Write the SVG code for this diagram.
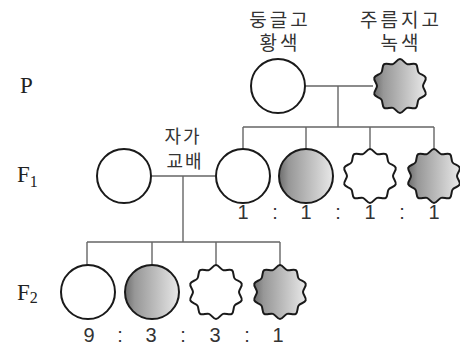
<svg xmlns="http://www.w3.org/2000/svg" xmlns:xlink="http://www.w3.org/1999/xlink" width="460" height="345" viewBox="0 0 460 345">
  <style>
    .ko { font-family: "Noto Sans CJK KR", "Noto Sans", sans-serif; font-size: 19px; fill: #333; letter-spacing: 3px; text-anchor: middle; }
    .gen { font-family: "Liberation Serif", "Times New Roman", serif; font-size: 23px; fill: #222; }
    .ratio { font-family: "Liberation Sans", Arial, sans-serif; font-size: 20px; fill: #333; text-anchor: middle; }
    .shape { stroke: #1a1a1a; stroke-width: 2; }
    .plain { fill: #fff; }
    .green { fill: url(#shade); }
    .link { fill: none; stroke: #666; stroke-width: 1.4; }
  </style>
  <defs>
    <linearGradient id="shade" x1="0" y1="0" x2="1" y2="0">
      <stop offset="0" stop-color="#6e6e6e"/>
      <stop offset="0.18" stop-color="#979797"/>
      <stop offset="1" stop-color="#e8e8e8"/>
    </linearGradient>
    <!-- round pea -->
    <circle id="round" r="27"/>
    <!-- wrinkled pea: ten-lobed wavy outline -->
    <path id="wrinkled" d="M0,-27 C2.8,-27 4.44,-22.74 7.11,-21.88 S13.61,-23.49 15.87,-21.84 S16.96,-15.78 18.61,-13.52 S24.82,-11.01 25.68,-8.34 S23,-2.8 23,0 S26.55,5.68 25.68,8.34 S20.25,11.25 18.61,13.52 S18.14,20.2 15.87,21.84 S9.77,21.01 7.11,21.88 S2.8,27 0,27 S-4.44,22.74 -7.11,21.88 S-13.61,23.49 -15.87,21.84 S-16.96,15.78 -18.61,13.52 S-24.82,11.01 -25.68,8.34 S-23,2.8 -23,0 S-26.55,-5.68 -25.68,-8.34 S-20.25,-11.25 -18.61,-13.52 S-18.14,-20.2 -15.87,-21.84 S-9.77,-21.01 -7.11,-21.88 S-2.8,-27 0,-27 Z"/>
  </defs>

  <!-- generation labels -->
  <g id="labels">
    <text class="gen" x="20" y="93">P</text>
    <text class="gen" x="17" y="182">F<tspan font-size="16" dy="5">1</tspan></text>
    <text class="gen" x="17" y="300">F<tspan font-size="16" dy="3">2</tspan></text>
  </g>

  <!-- connectors -->
  <g id="connectors" class="link">
    <path d="M305,86 H373 M338,86 V127 M243,127 H434 M243,127 V149 M306,127 V149 M370,127 V149 M434,127 V149"/>
    <path d="M151,176 H215 M183,176 V242 M87,242 H280 M87,242 V265 M152,242 V265 M216,242 V265 M280,242 V265"/>
  </g>

  <!-- parents -->
  <g id="p-round-yellow">
    <text class="ko" x="280" y="27">둥글고</text>
    <text class="ko" x="280" y="50">황색</text>
    <use xlink:href="#round" class="shape plain" x="278" y="86"/>
  </g>
  <g id="p-wrinkled-green">
    <text class="ko" x="401" y="27">주름지고</text>
    <text class="ko" x="401" y="50">녹색</text>
    <use xlink:href="#wrinkled" class="shape green" x="400" y="86"/>
  </g>

  <!-- F1 -->
  <g id="f1-self">
    <use xlink:href="#round" class="shape plain" x="124" y="176"/>
    <text class="ko" x="183" y="143" style="font-size:18px;letter-spacing:2px">자가</text>
    <text class="ko" x="185" y="168" style="font-size:18px;letter-spacing:2px">교배</text>
  </g>
  <g id="f1-round-yellow"><use xlink:href="#round" class="shape plain" x="243" y="176"/></g>
  <g id="f1-round-green"><use xlink:href="#round" class="shape green" x="306" y="176"/></g>
  <g id="f1-wrinkled-yellow"><use xlink:href="#wrinkled" class="shape plain" x="370" y="176"/></g>
  <g id="f1-wrinkled-green"><use xlink:href="#wrinkled" class="shape green" x="434" y="176"/></g>
  <g id="f1-ratio">
    <text class="ratio" x="243" y="219">1</text>
    <text class="ratio" x="275" y="219">:</text>
    <text class="ratio" x="306" y="219">1</text>
    <text class="ratio" x="338" y="219">:</text>
    <text class="ratio" x="370" y="219">1</text>
    <text class="ratio" x="402" y="219">:</text>
    <text class="ratio" x="434" y="219">1</text>
  </g>

  <!-- F2 -->
  <g id="f2-round-yellow"><use xlink:href="#round" class="shape plain" x="88" y="292"/></g>
  <g id="f2-round-green"><use xlink:href="#round" class="shape green" x="152" y="292"/></g>
  <g id="f2-wrinkled-yellow"><use xlink:href="#wrinkled" class="shape plain" x="216" y="292"/></g>
  <g id="f2-wrinkled-green"><use xlink:href="#wrinkled" class="shape green" x="280" y="292"/></g>
  <g id="f2-ratio">
    <text class="ratio" x="89" y="342">9</text>
    <text class="ratio" x="120" y="342">:</text>
    <text class="ratio" x="151" y="342">3</text>
    <text class="ratio" x="183" y="342">:</text>
    <text class="ratio" x="215" y="342">3</text>
    <text class="ratio" x="247" y="342">:</text>
    <text class="ratio" x="278" y="342">1</text>
  </g>
</svg>
